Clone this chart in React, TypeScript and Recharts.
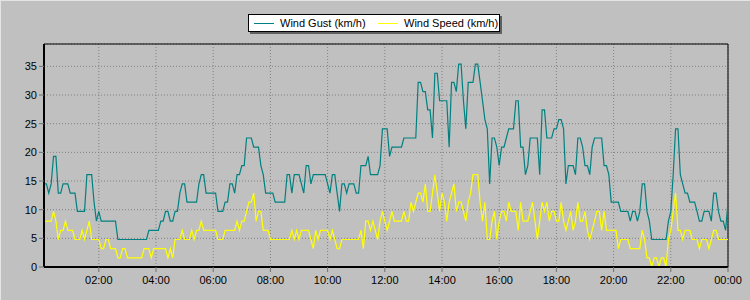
import { LineChart, Line, XAxis, YAxis, CartesianGrid, Legend, ReferenceLine } from 'recharts'

// samples every 5 minutes, first one at 00:05, last at 00:00 next day
const startMinute = 5
const stepMinutes = 5

// Wind Gust (km/h), one row per hour
const gust = [
  14.5, 14.5, 12.9, 14.5, 19.3, 19.3, 12.9, 12.9, 14.5, 14.5, 14.5, 12.9,
  12.9, 12.9, 9.7, 9.7, 9.7, 9.7, 16.1, 16.1, 16.1, 11.3, 8.0, 9.7,
  8.0, 8.0, 8.0, 8.0, 8.0, 8.0, 8.0, 4.8, 4.8, 4.8, 4.8, 4.8,
  4.8, 4.8, 4.8, 4.8, 4.8, 4.8, 4.8, 4.8, 6.4, 6.4, 6.4, 6.4,
  6.4, 8.0, 8.0, 9.7, 9.7, 8.0, 8.0, 9.7, 9.7, 12.9, 14.5, 14.5,
  11.3, 11.3, 11.3, 11.3, 11.3, 14.5, 16.1, 16.1, 12.9, 12.9, 12.9, 12.9,
  12.9, 9.7, 9.7, 9.7, 11.3, 11.3, 14.5, 14.5, 12.9, 16.1, 16.1, 17.7,
  17.7, 22.5, 22.5, 22.5, 20.9, 20.9, 20.9, 17.7, 16.1, 12.9, 12.9, 12.9,
  12.9, 11.3, 11.3, 11.3, 11.3, 11.3, 16.1, 16.1, 12.9, 16.1, 16.1, 16.1,
  14.5, 12.9, 17.7, 17.7, 14.5, 16.1, 16.1, 16.1, 16.1, 16.1, 16.1, 14.5,
  12.9, 16.1, 16.1, 12.9, 9.7, 14.5, 14.5, 12.9, 14.5, 14.5, 14.5, 12.9,
  12.9, 17.7, 17.7, 17.7, 19.3, 16.1, 16.1, 16.1, 16.1, 17.7, 24.1, 24.1,
  24.1, 19.3, 20.9, 20.9, 20.9, 20.9, 20.9, 22.5, 22.5, 22.5, 22.5, 22.5,
  22.5, 32.2, 32.2, 30.6, 30.6, 27.4, 27.4, 22.5, 33.8, 33.8, 29.0, 29.0,
  29.0, 29.0, 20.9, 32.2, 32.2, 30.6, 35.4, 35.4, 29.0, 24.1, 32.2, 32.2,
  32.2, 35.4, 35.4, 32.2, 29.0, 25.7, 24.1, 14.5, 22.5, 22.5, 20.9, 17.7,
  20.9, 20.9, 22.5, 24.1, 24.1, 24.1, 29.0, 29.0, 20.9, 20.9, 16.1, 17.7,
  22.5, 22.5, 22.5, 22.5, 16.1, 27.4, 27.4, 22.5, 22.5, 22.5, 24.1, 24.1,
  25.7, 25.7, 24.1, 14.5, 17.7, 17.7, 17.7, 16.1, 22.5, 22.5, 20.9, 17.7,
  17.7, 16.1, 20.9, 22.5, 22.5, 22.5, 22.5, 17.7, 17.7, 16.1, 11.3, 11.3,
  11.3, 11.3, 9.7, 9.7, 9.7, 9.7, 8.0, 9.7, 9.7, 8.0, 9.7, 14.5,
  14.5, 9.7, 8.0, 4.8, 4.8, 4.8, 4.8, 4.8, 4.8, 4.8, 8.0, 9.7,
  16.1, 24.1, 24.1, 16.1, 14.5, 12.9, 12.9, 11.3, 11.3, 11.3, 9.7, 8.0,
  8.0, 9.7, 9.7, 9.7, 8.0, 12.9, 12.9, 9.7, 8.0, 8.0, 6.4, 11.3,
]

// Wind Speed (km/h)
const speed = [
  8.0, 8.0, 8.0, 8.0, 9.7, 8.0, 4.8, 6.4, 6.4, 8.0, 6.4, 6.4,
  6.4, 4.8, 4.8, 4.8, 6.4, 4.8, 6.4, 8.0, 4.8, 4.8, 4.8, 4.8,
  3.2, 3.2, 4.8, 4.8, 3.2, 3.2, 3.2, 1.6, 1.6, 3.2, 3.2, 1.6,
  1.6, 1.6, 1.6, 1.6, 1.6, 1.6, 3.2, 3.2, 3.2, 1.6, 3.2, 3.2,
  3.2, 3.2, 3.2, 3.2, 1.6, 3.2, 1.6, 4.8, 4.8, 4.8, 6.4, 4.8,
  4.8, 4.8, 6.4, 4.8, 6.4, 6.4, 8.0, 6.4, 6.4, 6.4, 6.4, 6.4,
  6.4, 4.8, 4.8, 4.8, 6.4, 6.4, 6.4, 6.4, 6.4, 8.0, 6.4, 8.0,
  8.0, 9.7, 11.3, 11.3, 12.9, 8.0, 9.7, 9.7, 6.4, 6.4, 6.4, 4.8,
  4.8, 4.8, 4.8, 4.8, 4.8, 4.8, 4.8, 4.8, 6.4, 4.8, 6.4, 4.8,
  6.4, 6.4, 6.4, 6.4, 4.8, 3.2, 6.4, 4.8, 6.4, 6.4, 6.4, 6.4,
  4.8, 6.4, 4.8, 3.2, 3.2, 4.8, 4.8, 4.8, 4.8, 4.8, 4.8, 4.8,
  4.8, 6.4, 3.2, 8.0, 8.0, 6.4, 8.0, 6.4, 4.8, 8.0, 9.7, 8.0,
  6.4, 8.0, 9.7, 8.0, 8.0, 8.0, 8.0, 9.7, 8.0, 8.0, 11.3, 9.7,
  11.3, 12.9, 12.9, 11.3, 14.5, 9.7, 9.7, 12.9, 16.1, 12.9, 9.7, 12.9,
  11.3, 8.0, 11.3, 12.9, 14.5, 9.7, 11.3, 11.3, 9.7, 8.0, 11.3, 12.9,
  16.1, 16.1, 16.1, 11.3, 8.0, 11.3, 4.8, 4.8, 8.0, 9.7, 4.8, 8.0,
  9.7, 9.7, 8.0, 11.3, 9.7, 9.7, 9.7, 6.4, 11.3, 8.0, 8.0, 8.0,
  9.7, 11.3, 8.0, 4.8, 8.0, 11.3, 9.7, 11.3, 8.0, 9.7, 9.7, 8.0,
  8.0, 11.3, 8.0, 6.4, 8.0, 9.7, 6.4, 8.0, 11.3, 8.0, 8.0, 9.7,
  6.4, 4.8, 6.4, 8.0, 9.7, 9.7, 6.4, 9.7, 6.4, 6.4, 6.4, 6.4,
  6.4, 3.2, 4.8, 4.8, 4.8, 4.8, 3.2, 3.2, 3.2, 3.2, 3.2, 6.4,
  4.8, 1.6, 1.6, 0, 1.6, 1.6, 0, 1.6, 1.6, 0, 4.8, 6.4,
  9.7, 12.9, 6.4, 6.4, 4.8, 6.4, 6.4, 6.4, 4.8, 4.8, 4.8, 3.2,
  4.8, 4.8, 4.8, 3.2, 4.8, 6.4, 6.4, 4.8, 4.8, 4.8, 4.8, 4.8,
]

const xTicks = [120, 240, 360, 480, 600, 720, 840, 960, 1080, 1200, 1320, 1440]
const yTicks = [0, 5, 10, 15, 20, 25, 30, 35]
const yMax = 38.9

// minor tick marks: every 30 minutes / every 0.5 km/h
const xMinorTicks: number[] = []
for (let m = 30; m <= 1440; m += 30) xMinorTicks.push(m)
const yMinorTicks: number[] = []
for (let v = 0; v <= 38.5; v += 0.5) yMinorTicks.push(v)

const data = gust.map((g, i) => ({
  t: startMinute + i * stepMinutes,
  gust: g,
  speed: speed[i],
}))

const FONT = '"Liberation Sans", Arial, sans-serif'
const GUST_COLOR = '#008080'
const SPEED_COLOR = '#ffff00'

function formatTime(m: number): string {
  const h = Math.floor(m / 60) % 24
  const mm = m % 60
  return `${String(h).padStart(2, '0')}:${String(mm).padStart(2, '0')}`
}

function ChartLegend() {
  const item = (left: number, color: string, label: string) => (
    <div style={{ position: 'absolute', left, top: 0, height: 16, display: 'flex', alignItems: 'center' }}>
      <span style={{ display: 'inline-block', width: 20, height: 1, background: color, marginRight: 6 }} />
      <span style={{ whiteSpace: 'nowrap' }}>{label}</span>
    </div>
  )
  return (
    <div
      style={{
        position: 'relative',
        width: 252,
        height: 18,
        boxSizing: 'border-box',
        background: '#fff',
        border: '1px solid #000',
        boxShadow: '2px 2px 0 #606060',
        fontFamily: FONT,
        fontSize: 11,
        color: '#000',
      }}
    >
      {item(5, GUST_COLOR, 'Wind Gust (km/h)')}
      {item(129, SPEED_COLOR, 'Wind Speed (km/h)')}
    </div>
  )
}

export default function App() {
  return (
    <div
      style={{
        position: 'fixed',
        left: 0,
        top: 0,
        width: 750,
        height: 300,
        background: '#c0c0c0',
        boxShadow: 'inset 1px 1px 0 #e4e4e4',
      }}
    >
      <LineChart width={750} height={300} data={data} margin={{ top: 44, right: 22, bottom: 0, left: 0 }}>
        <CartesianGrid stroke="#808080" strokeDasharray="1 2" />
        {/* minor tick axes first so they sit on the plot edge */}
        <XAxis
          xAxisId="minor"
          dataKey="t"
          type="number"
          domain={[startMinute, 1440]}
          allowDataOverflow
          ticks={xMinorTicks}
          interval={0}
          tick={false}
          tickLine={{ stroke: '#707070' }}
          tickSize={3}
          axisLine={false}
          height={0}
        />
        <YAxis
          yAxisId="minor"
          type="number"
          domain={[0, yMax]}
          allowDataOverflow
          ticks={yMinorTicks}
          interval={0}
          tick={false}
          tickLine={{ stroke: '#707070' }}
          tickSize={3}
          axisLine={false}
          width={0}
        />
        <XAxis
          dataKey="t"
          type="number"
          domain={[startMinute, 1440]}
          allowDataOverflow
          ticks={xTicks}
          interval={0}
          tickFormatter={formatTime}
          tick={{ fill: '#000', fontSize: 11, fontFamily: FONT }}
          tickLine={{ stroke: '#707070' }}
          tickSize={5}
          tickMargin={4}
          axisLine={{ stroke: '#000', strokeWidth: 2 }}
          height={33}
        />
        <YAxis
          type="number"
          domain={[0, yMax]}
          allowDataOverflow
          ticks={yTicks}
          interval={0}
          tick={{ fill: '#000', fontSize: 11, fontFamily: FONT }}
          tickLine={{ stroke: '#707070' }}
          tickSize={5}
          tickMargin={2}
          axisLine={{ stroke: '#000', strokeWidth: 2 }}
          width={44}
        />
        <ReferenceLine y={yMax} stroke="#000" />
        <ReferenceLine x={1440} stroke="#000" />
        <Legend
          layout="horizontal"
          verticalAlign="middle"
          align="center"
          content={() => <ChartLegend />}
          wrapperStyle={{ left: 248, top: 14, width: 252, height: 18 }}
        />
        <Line
          type="linear"
          dataKey="gust"
          name="Wind Gust (km/h)"
          stroke={GUST_COLOR}
          strokeWidth={1.2}
          dot={false}
          isAnimationActive={false}
        />
        <Line
          type="linear"
          dataKey="speed"
          name="Wind Speed (km/h)"
          stroke={SPEED_COLOR}
          strokeWidth={1.2}
          dot={false}
          isAnimationActive={false}
        />
      </LineChart>
    </div>
  )
}
